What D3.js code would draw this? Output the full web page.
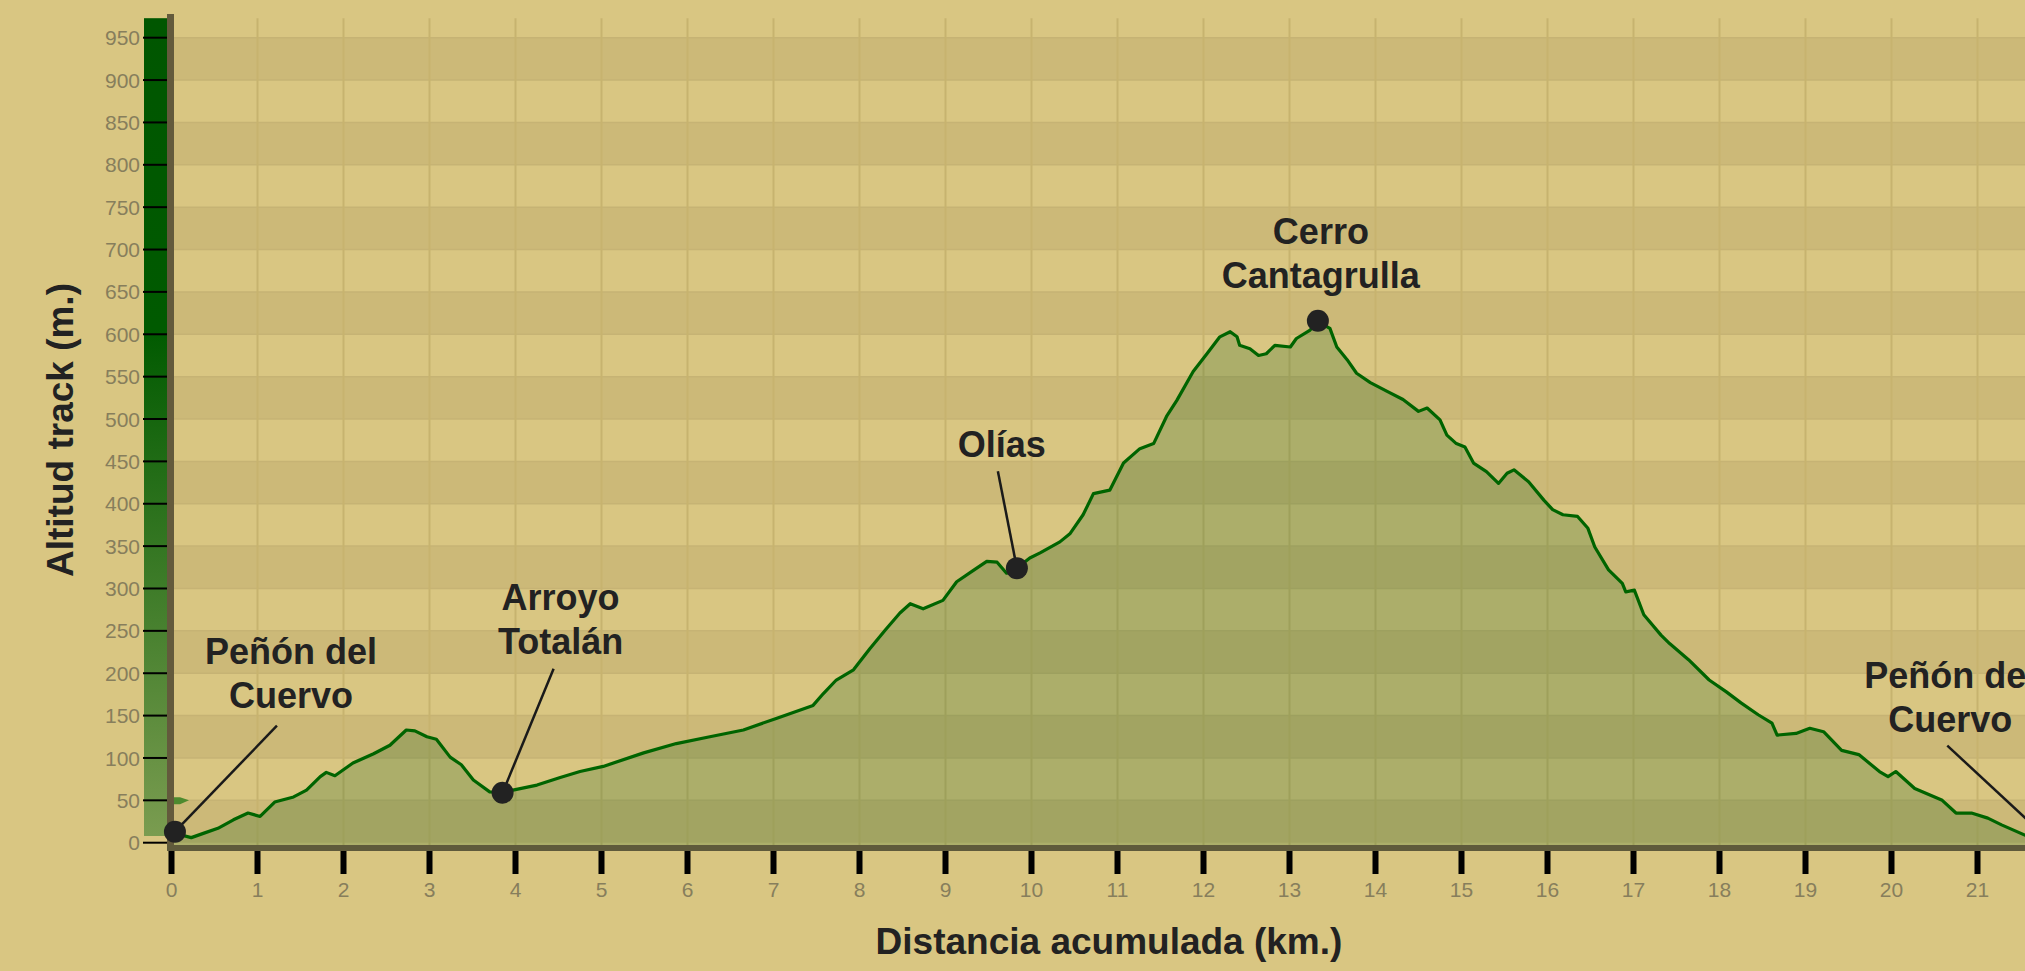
<!DOCTYPE html>
<html>
<head>
<meta charset="utf-8">
<script src="https://cdn.jsdelivr.net/npm/d3@7"></script>
<style>
  body { margin: 0; background: #d9c682; overflow: hidden; }
  svg { display: block; }
  text { font-family: Arial, "Liberation Sans", sans-serif; }
</style>
</head>
<body>
<svg id="chart" width="2025" height="971"></svg>
<script>
// track profile
const distKm = [0.00,0.23,0.37,0.54,0.72,0.89,1.03,1.20,1.42,1.57,1.73,1.80,1.90,2.11,2.35,2.54,2.73,2.83,2.97,3.08,
  3.24,3.37,3.51,3.70,3.85,3.97,4.25,4.52,4.75,5.02,5.49,5.87,6.26,6.65,7.04,7.46,7.58,7.73,7.93,8.12,
  8.30,8.47,8.59,8.74,8.97,9.13,9.32,9.48,9.60,9.71,9.83,9.98,10.10,10.33,10.45,10.60,10.72,10.91,11.07,11.26,
  11.42,11.57,11.69,11.88,12.04,12.19,12.31,12.39,12.42,12.54,12.64,12.73,12.83,13.01,13.08,13.24,13.33,13.47,13.55,13.67,
  13.78,13.94,14.13,14.32,14.50,14.60,14.75,14.83,14.94,15.04,15.14,15.29,15.43,15.53,15.61,15.78,15.96,16.06,16.18,16.35,
  16.47,16.55,16.71,16.87,16.91,17.01,17.12,17.32,17.42,17.64,17.88,18.08,18.25,18.45,18.61,18.67,18.89,19.05,19.21,19.42,
  19.62,19.86,19.96,20.05,20.27,20.59,20.75,20.93,21.12,21.28,21.55,21.80];
const altM = [12,6,11,17,27,35,31,48,54,62,78,83,79,94,105,115,133,132,125,122,
  101,92,74,60,59,62,68,77,84,90,106,117,125,133,147,162,176,192,204,229,
  251,271,282,276,286,308,321,332,331,318,324,336,342,355,365,387,412,416,448,465,
  471,503,522,556,577,597,603,597,587,583,575,577,587,585,595,605,615,607,585,570,
  554,543,533,523,509,513,499,481,471,467,448,438,424,436,440,426,404,393,387,385,
  371,349,322,306,296,298,269,245,235,216,192,178,165,151,141,127,129,135,131,109,
  104,84,78,84,64,50,35,35,29,21,9,6];

// waypoints
const wpNames = [['Peñón del','Cuervo'], ['Arroyo','Totalán'], ['Olías'], ['Cerro','Cantagrulla'], ['Peñón del','Cuervo']];
const wpKm = [0.04, 3.85, 9.83, 13.33, 21.80];
const wpAlt = [13, 59, 324, 616, 6];

const xTicks = d3.range(0, 23, 1);
const yTicks = d3.range(0, 1000, 50);
const yBands = d3.range(0, 1000, 100);

const xTitle = 'Distancia acumulada (km.)';
const yTitle = 'Altitud track (m.)';

// ---------- layout ----------
const svg = d3.select('#chart');
const left = 171.5, kmPx = 86;
const x = d3.scaleLinear().domain([0, 22]).range([left, left + 22 * kmPx]);
const y = d3.scaleLinear().domain([0, 973]).range([842.7, 18.2]);
const plotRight = x(22);

// leader end / label offsets relative to the marker (dx, dy of leader end, label dx, last baseline dy)
const labelLayout = [
  {lx: 102, ly: -106, tx: 116, ty: -124},
  {lx: 51, ly: -124, tx: 58, ty: -139},
  {lx: -19, ly: -97, tx: -15, ty: -111},
  {lx: 0, ly: 0, tx: 3, ty: -33},
  {lx: -99, ly: -92, tx: -96, ty: -106}
];

// background
svg.append('rect')
  .attr('x', 0).attr('y', 0)
  .attr('width', 2025).attr('height', 971)
  .attr('fill', '#d9c682');

// horizontal bands every 50 m
svg.append('g').selectAll('rect')
  .data(yBands)
  .join('rect')
  .attr('x', left)
  .attr('width', plotRight - left)
  .attr('y', d => y(d + 50))
  .attr('height', d => y(d) - y(d + 50))
  .attr('fill', '#ccb978');

svg.append('g').selectAll('line')
  .data(yTicks.slice(1))
  .join('line')
  .attr('x1', left).attr('x2', plotRight)
  .attr('y1', d => y(d)).attr('y2', d => y(d))
  .attr('stroke', '#c6b374')
  .attr('stroke-width', 1.5);

// vertical grid
svg.append('g').selectAll('line')
  .data(xTicks.slice(1))
  .join('line')
  .attr('x1', d => x(d)).attr('x2', d => x(d))
  .attr('y1', y(973)).attr('y2', 846)
  .attr('stroke', '#c7b36f')
  .attr('stroke-width', 2);

// profile
const pts = distKm.map((d, i) => [d, altM[i]]);

const area = d3.area()
  .x(d => x(d[0]))
  .y0(846)
  .y1(d => y(d[1]));

const line = d3.line()
  .x(d => x(d[0]))
  .y(d => y(d[1]));

svg.append('path')
  .datum(pts)
  .attr('d', area)
  .attr('fill', '#1d661d')
  .attr('fill-opacity', 0.24);

svg.append('path')
  .datum(pts)
  .attr('d', line)
  .attr('fill', 'none')
  .attr('stroke', '#006400')
  .attr('stroke-width', 3.2)
  .attr('stroke-linejoin', 'round');

// green scale bar left of the y axis
const defs = svg.append('defs');
const grad = defs.append('linearGradient')
  .attr('id', 'barGrad')
  .attr('x1', 0).attr('y1', 0).attr('x2', 0).attr('y2', 1);
grad.append('stop').attr('offset', 0).attr('stop-color', '#005600');
grad.append('stop').attr('offset', 0.38).attr('stop-color', '#005a00');
grad.append('stop').attr('offset', 1).attr('stop-color', '#7a9c50');

svg.append('rect')
  .attr('x', 144).attr('y', y(973))
  .attr('width', 23)
  .attr('height', 836 - y(973))
  .attr('fill', 'url(#barGrad)');

// y axis
const yAxis = svg.append('g');
yAxis.selectAll('line')
  .data(yTicks)
  .join('line')
  .attr('x1', 143).attr('x2', 168)
  .attr('y1', d => y(d)).attr('y2', d => y(d))
  .attr('stroke', '#000')
  .attr('stroke-width', 2);
yAxis.selectAll('text')
  .data(yTicks)
  .join('text')
  .attr('x', 140)
  .attr('y', d => y(d))
  .attr('dy', '0.36em')
  .attr('text-anchor', 'end')
  .attr('font-size', 21)
  .attr('fill', '#877e5c')
  .text(d => d);

// small flag at 50 m
svg.append('path')
  .attr('d', `M172,${y(50) - 3} L180,${y(50) - 3} L189,${y(50)} L180,${y(50) + 4} L172,${y(50) + 4} Z`)
  .attr('fill', '#4d8a2e');

// axis lines
svg.append('rect')
  .attr('x', 167).attr('y', 14)
  .attr('width', 7).attr('height', 837)
  .attr('fill', '#635a3c');
svg.append('rect')
  .attr('x', 167).attr('y', 845)
  .attr('width', plotRight - 167).attr('height', 6)
  .attr('fill', '#5f5a3b');

// x axis
const xAxis = svg.append('g');
xAxis.selectAll('rect')
  .data(xTicks)
  .join('rect')
  .attr('x', d => x(d) - 3)
  .attr('y', 851)
  .attr('width', 6)
  .attr('height', 23)
  .attr('fill', '#000');
xAxis.selectAll('text')
  .data(xTicks)
  .join('text')
  .attr('x', d => x(d))
  .attr('y', 897)
  .attr('text-anchor', 'middle')
  .attr('font-size', 21)
  .attr('fill', '#877e5c')
  .text(d => d);

// axis titles
svg.append('text')
  .attr('x', 1109)
  .attr('y', 954)
  .attr('text-anchor', 'middle')
  .attr('font-size', 37)
  .attr('font-weight', 'bold')
  .attr('fill', '#222')
  .text(xTitle);

svg.append('text')
  .attr('transform', 'translate(72.5,430) rotate(-90)')
  .attr('text-anchor', 'middle')
  .attr('font-size', 37)
  .attr('font-weight', 'bold')
  .attr('fill', '#222')
  .text(yTitle);

// waypoints
const wp = svg.append('g');
wpKm.forEach((km, i) => {
  const cx = x(km), cy = y(wpAlt[i]);
  const lay = labelLayout[i];
  if (lay.lx !== 0 || lay.ly !== 0) {
    wp.append('line')
      .attr('x1', cx).attr('y1', cy)
      .attr('x2', cx + lay.lx).attr('y2', cy + lay.ly)
      .attr('stroke', '#1a1a1a')
      .attr('stroke-width', 2.5);
  }
  wp.append('circle')
    .attr('cx', cx).attr('cy', cy)
    .attr('r', 11)
    .attr('fill', '#222');
  const lines = wpNames[i];
  const t = wp.append('text')
    .attr('text-anchor', 'middle')
    .attr('font-size', 36)
    .attr('font-weight', 'bold')
    .attr('fill', '#222');
  lines.forEach((s, j) => {
    t.append('tspan')
      .attr('x', cx + lay.tx)
      .attr('y', cy + lay.ty - (lines.length - 1 - j) * 44)
      .text(s);
  });
});
</script>
</body>
</html>
